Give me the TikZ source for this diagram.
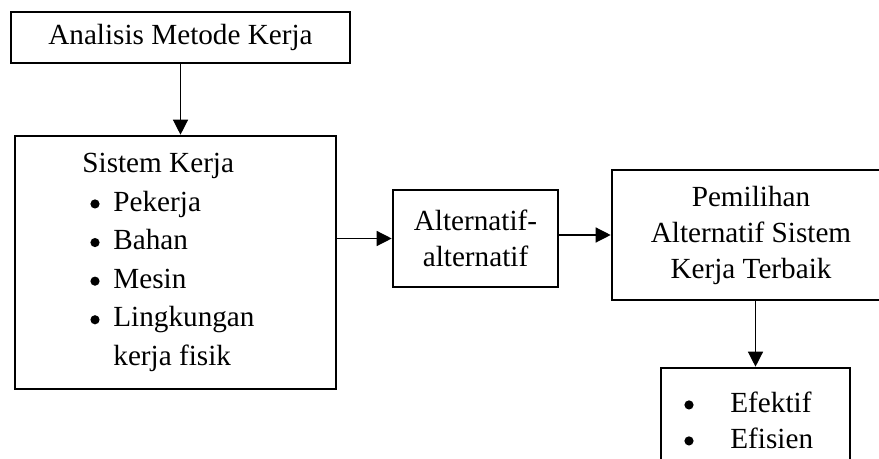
\documentclass[tikz,border=0pt]{standalone}
\usepackage{fontspec}
\setmainfont{Liberation Serif}
\usetikzlibrary{arrows.meta,positioning}
\newcommand{\titik}{\tikz[baseline=-3.6pt]\fill (0,0) circle (2.3pt);}
\begin{document}
\begin{tikzpicture}[x=0.5pt,y=-0.5pt,
  kotak/.style={draw,line width=1.3pt,inner sep=0pt,align=center,font=\fontsize{14.6}{18}\selectfont},
  isi/.style={inner sep=0pt,anchor=west,align=left},
  panah/.style={line width=0.65pt,-{Triangle[length=7.5pt,width=7.5pt]}}]
\useasboundingbox (0,0) rectangle (879,459);
\clip (0,0) rectangle (879,459);
\node[kotak,minimum width=169.5pt,minimum height=25.5pt] (analisis) at (180.5,37.5) {Analisis Metode Kerja};
\node[kotak,minimum width=160.5pt,minimum height=126.5pt] (sistem) at (175.5,262.5) {};
\node[isi,font=\fontsize{14.6}{19.3}\selectfont] (sistemisi) at (82,262.5)
  {Sistem Kerja\\
   \hspace*{4pt}\makebox[11.5pt][l]{\titik}Pekerja\\
   \hspace*{4pt}\makebox[11.5pt][l]{\titik}Bahan\\
   \hspace*{4pt}\makebox[11.5pt][l]{\titik}Mesin\\
   \hspace*{4pt}\makebox[11.5pt][l]{\titik}Lingkungan\\
   \hspace*{15.5pt}kerja fisik};
\node[kotak,minimum width=82.5pt,minimum height=48.5pt] (alt) at (475.5,238.5) {Alternatif-\\alternatif};
\node[kotak,minimum width=139pt,minimum height=65pt] (pilih) at (751,235) {Pemilihan\\Alternatif Sistem\\Kerja Terbaik};
\node[kotak,minimum width=94.5pt,minimum height=56pt] (hasil) at (755.5,424) {};
\node[isi,font=\fontsize{14.6}{18}\selectfont] (hasilisi) at (684,420)
  {\makebox[23pt][l]{\titik}Efektif\\
   \makebox[23pt][l]{\titik}Efisien};
\draw[panah] (analisis.south) -- (analisis.south |- sistem.north);
\draw[panah] (sistem.east |- alt.west) -- (alt.west);
\draw[panah] (alt.east |- pilih.west) -- (pilih.west);
\draw[panah] (pilih.south -| hasil.north) -- (hasil.north);
\end{tikzpicture}
\end{document}
